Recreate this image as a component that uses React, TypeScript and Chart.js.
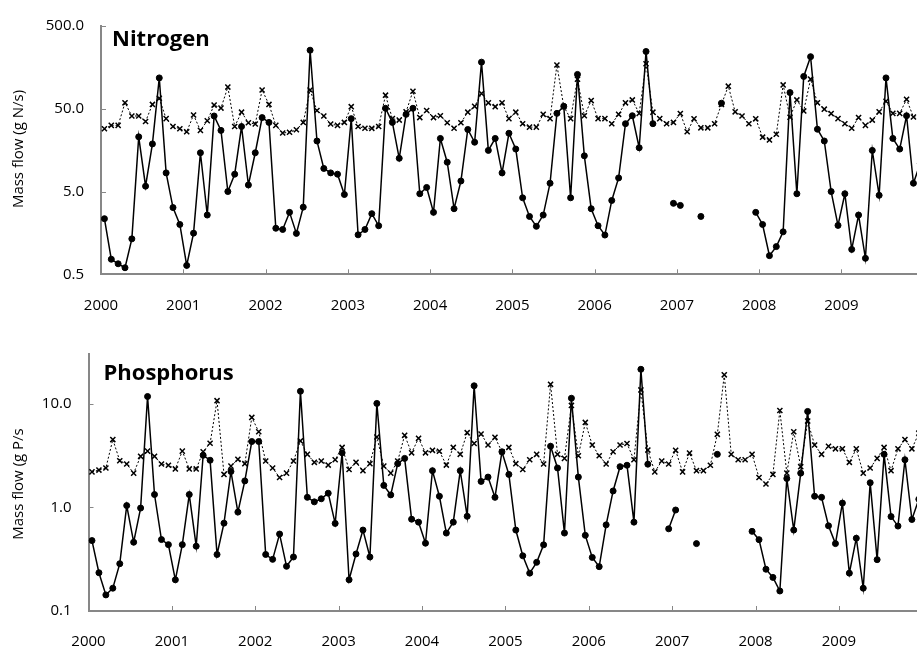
import React, { useEffect, useRef } from 'react';
import { Chart, registerables } from 'chart.js';

Chart.register(...registerables);

// Year labels placed at the start of each year on the monthly time axis
const YEARS = ['2000', '2001', '2002', '2003', '2004', '2005', '2006', '2007', '2008', '2009'];

// Monthly nitrogen mass flow (g N/s), Jan 2000 – Dec 2009
const N_TOTAL = [
  28.7, 31.5, 31.5, 59, 40.9, 40.9, 35.1, 56.4, 66.8, 38, 30.5, 28.7,
  26.4, 42, 27.4, 35.8, 55.4, 51, 91.4, 30.5, 45.5, 33.9, 32.7, 84.3,
  56.4, 31.5, 25.5, 26, 27.9, 34.2, 84.3, 47.6, 40.9, 32.7, 31.5, 34.2,
  53, 30.5, 29.1, 29, 30.5, 73, 38, 36.5, 45.9, 81.4, 39.1, 47.6,
  39.1, 41.2, 33.9, 29.1, 33.9, 45.5, 53.5, 76.4, 59, 53, 59, 38,
  45.5, 33, 30, 30, 42.8, 38, 169, 53, 38, 114, 41.2, 62.8,
  38, 38, 33, 42.8, 59, 64, 44, 175, 45.5, 38, 33, 34.2,
  43.7, 26.4, 37.8, 29.4, 29.4, 33, 56.4, 93.8, 45.9, 40.9, 33, 37.8,
  22.7, 21, 24.6, 97, 39.5, 64, 47.1, 114, 59, 49.4, 43.7, 38,
  33, 29.1, 39.1, 31.5, 36.5, 45.9, 61.6, 44, 44, 65, 39.8, 40,
];
const N_SAMPLED = [
  2.35, 0.76, 0.67, 0.6, 1.34, 22.9, 5.8, 18.8, 118, 8.4, 3.2, 2.0,
  0.64, 1.57, 14.7, 2.6, 40.9, 27.4, 5.0, 8.1, 30.5, 6.0, 14.7, 39.1,
  34.2, 1.8, 1.74, 2.8, 1.56, 3.24, 255, 20.4, 9.5, 8.4, 8.1, 4.6,
  38, 1.5, 1.74, 2.7, 1.93, 50.7, 34.2, 12.6, 42.8, 50.7, 4.7, 5.6,
  2.8, 21.9, 11.3, 3.1, 6.7, 28.1, 19.7, 183, 15.7, 21.9, 8.4, 25.3,
  16.3, 4.2, 2.5, 1.9, 2.6, 6.3, 44, 53.5, 4.2, 130, 13.5, 3.1,
  1.93, 1.49, 3.9, 7.3, 33, 41.2, 16.9, 246, 33, null, null, 3.6,
  3.4, null, null, 2.5, null, null, 58.4, null, null, null, null, 2.8,
  2.0, 0.84, 1.08, 1.63, 78.4, 4.7, 123, 213, 28.3, 20.4, 5.0, 1.95,
  4.7, 1.0, 2.6, 0.78, 15.7, 4.5, 118, 21.9, 16.3, 41.2, 6.3, 11,
];

// Monthly phosphorus mass flow (g P/s), Jan 2000 – Dec 2009
const P_TOTAL = [
  2.2, 2.29, 2.4, 4.51, 2.82, 2.62, 2.14, 3.11, 3.49, 3.11, 2.62, 2.55,
  2.35, 3.49, 2.35, 2.35, 3.44, 4.16, 10.7, 2.08, 2.5, 2.91, 2.64, 7.38,
  5.37, 2.8, 2.4, 1.94, 2.14, 2.8, 4.38, 3.25, 2.72, 2.8, 2.56, 2.88,
  3.79, 2.32, 2.72, 2.26, 2.64, 4.78, 2.5, 2.14, 2.8, 4.96, 3.36, 4.64,
  3.36, 3.55, 3.48, 2.56, 3.79, 3.25, 5.26, 4.13, 5.1, 4.0, 4.74, 3.44,
  3.79, 2.64, 2.32, 2.88, 3.25, 2.62, 15.4, 3.25, 2.97, 9.63, 3.15, 6.6,
  4.0, 3.15, 2.62, 3.44, 4.0, 4.13, 2.88, 13.6, 3.57, 2.2, 2.8, 2.62,
  3.55, 2.2, 3.34, 2.26, 2.26, 2.55, 5.07, 19.0, 3.25, 2.88, 2.88, 3.25,
  1.94, 1.68, 2.08, 8.61, 2.14, 5.37, 2.47, 6.8, 4.0, 3.25, 3.89, 3.67,
  3.67, 2.72, 3.67, 2.14, 2.4, 2.97, 3.79, 2.26, 3.67, 4.51, 3.67, 5.2,
];
const P_SAMPLED = [
  0.478, 0.234, 0.143, 0.166, 0.286, 1.04, 0.461, 0.985, 11.75, 1.33, 0.489, 0.437,
  0.2, 0.437, 1.33, 0.422, 3.18, 2.85, 0.351, 0.704, 2.22, 0.9, 1.8, 4.32,
  4.32, 0.351, 0.315, 0.553, 0.27, 0.332, 13.2, 1.25, 1.13, 1.21, 1.37, 0.7,
  3.36, 0.2, 0.355, 0.604, 0.332, 10.07, 1.63, 1.32, 2.64, 2.97, 0.769, 0.72,
  0.451, 2.26, 1.28, 0.565, 0.72, 2.26, 0.82, 14.9, 1.78, 1.96, 1.25, 3.44,
  2.08, 0.604, 0.341, 0.232, 0.295, 0.435, 3.89, 2.4, 0.565, 11.3, 1.96, 0.537,
  0.329, 0.268, 0.678, 1.44, 2.47, 2.55, 0.72, 21.5, 2.61, null, null, 0.621,
  0.943, null, null, 0.447, null, null, 3.25, null, null, null, null, 0.587,
  0.488, 0.253, 0.211, 0.156, 1.9, 0.604, 2.14, 8.43, 1.28, 1.25, 0.664, 0.447,
  1.1, 0.232, 0.504, 0.166, 1.73, 0.313, 3.25, 0.815, 0.66, 2.88, 0.764, 1.2,
];

const N_TICKS = [0.5, 5, 50, 500];
const P_TICKS = [0.1, 1, 10];

const FONT = '"Open Sans", sans-serif';
const AXIS_GREY = '#878787';
const CANVAS_W = 940;
const CANVAS_H = 325;

// Points sit in the middle of each month on a 0–120 month axis
const toPoints = (vals: (number | null)[]) => vals.map((v, i) => ({ x: i + 0.5, y: v }));

// Inward tick marks, panel heading and the rotated y-axis caption
const panelDecor = {
  id: 'panelDecor',
  afterDraw(chart: any, _args: any, opts: any) {
    const { ctx, chartArea: area } = chart;
    const xs = chart.scales.x;
    const ys = chart.scales.y;
    ctx.save();
    ctx.strokeStyle = AXIS_GREY;
    ctx.lineWidth = 1;
    ctx.beginPath();
    xs.ticks.forEach((t: any) => {
      const px = Math.round(xs.getPixelForValue(t.value)) + 0.5;
      ctx.moveTo(px, area.bottom);
      ctx.lineTo(px, area.bottom - 5);
    });
    ys.ticks.forEach((t: any) => {
      const py = Math.round(ys.getPixelForValue(t.value)) + 0.5;
      ctx.moveTo(area.left, py);
      ctx.lineTo(area.left + 5, py);
    });
    ctx.stroke();

    ctx.fillStyle = '#000';
    ctx.font = `bold 22px ${FONT}`;
    ctx.textAlign = 'left';
    ctx.textBaseline = 'alphabetic';
    ctx.fillText(opts.title, opts.titleX, opts.titleY);

    ctx.translate(opts.labelX, opts.labelY);
    ctx.rotate(-Math.PI / 2);
    ctx.font = `15px ${FONT}`;
    ctx.textAlign = 'center';
    ctx.textBaseline = 'middle';
    ctx.fillText(opts.label, 0, 0);
    ctx.restore();
  },
};

interface PanelSpec {
  total: (number | null)[];
  sampled: (number | null)[];
  yTicks: number[];
  yMin: number;
  yMax: number;
  axisLeft: number;
  padTop: number;
  padRight: number;
  xHeight: number;
  labelPad: number;
  title: string;
  titleX: number;
  titleY: number;
  label: string;
  labelX: number;
  labelY: number;
}

function buildConfig(p: PanelSpec): any {
  return {
    type: 'line',
    data: {
      datasets: [
        {
          label: 'total',
          data: toPoints(p.total),
          borderColor: '#000',
          borderWidth: 1,
          borderDash: [2, 2],
          pointStyle: 'crossRot',
          pointRadius: 3.6,
          pointBorderWidth: 1.5,
          pointBorderColor: '#000',
          pointBackgroundColor: '#000',
          tension: 0,
        },
        {
          label: 'sampled',
          data: toPoints(p.sampled),
          borderColor: '#000',
          borderWidth: 1.5,
          pointStyle: 'circle',
          pointRadius: 3,
          pointBorderWidth: 1,
          pointBorderColor: '#000',
          pointBackgroundColor: '#000',
          spanGaps: false,
          tension: 0,
        },
      ],
    },
    options: {
      responsive: false,
      animation: false,
      events: [],
      layout: { padding: { top: p.padTop, right: p.padRight, bottom: 0, left: 0 } },
      plugins: {
        legend: { display: false },
        tooltip: { enabled: false },
        panelDecor: {
          title: p.title,
          titleX: p.titleX,
          titleY: p.titleY,
          label: p.label,
          labelX: p.labelX,
          labelY: p.labelY,
        },
      },
      scales: {
        x: {
          type: 'linear',
          min: 0,
          max: YEARS.length * 12,
          grid: { display: true, drawOnChartArea: false, drawTicks: false },
          border: { display: true, color: AXIS_GREY, width: 2 },
          afterBuildTicks: (scale: any) => {
            scale.ticks = YEARS.map((_, i) => ({ value: i * 12 }));
          },
          afterFit: (scale: any) => {
            scale.height = p.xHeight;
          },
          ticks: {
            autoSkip: false,
            maxRotation: 0,
            padding: p.labelPad,
            color: '#000',
            font: { family: FONT, size: 15 },
            callback: (_v: any, i: number) => YEARS[i],
          },
        },
        y: {
          type: 'logarithmic',
          min: p.yMin,
          max: p.yMax,
          grid: { display: true, drawOnChartArea: false, drawTicks: false },
          border: { display: true, color: AXIS_GREY, width: 2 },
          afterBuildTicks: (scale: any) => {
            scale.ticks = p.yTicks.map((v) => ({ value: v }));
          },
          afterFit: (scale: any) => {
            scale.width = p.axisLeft;
          },
          ticks: {
            padding: 17,
            color: '#000',
            font: { family: FONT, size: 15 },
            callback: (v: any) => Number(v).toFixed(1),
          },
        },
      },
    },
    plugins: [panelDecor],
  };
}

const NITROGEN: PanelSpec = {
  total: N_TOTAL,
  sampled: N_SAMPLED,
  yTicks: N_TICKS,
  yMin: 0.5,
  yMax: 500,
  axisLeft: 101,
  padTop: 18.3,
  padRight: CANVAS_W - 923.7,
  xHeight: CANVAS_H - 274.3,
  labelPad: 22,
  title: 'Nitrogen',
  titleX: 112,
  titleY: 45.5,
  label: 'Mass flow (g N/s)',
  labelX: 18.5,
  labelY: 149,
};

const PHOSPHORUS: PanelSpec = {
  total: P_TOTAL,
  sampled: P_SAMPLED,
  yTicks: P_TICKS,
  yMin: 0.1,
  yMax: 30,
  axisLeft: 88.5,
  padTop: 29.3,
  padRight: CANVAS_W - 922.3,
  xHeight: CANVAS_H - 286,
  labelPad: 22,
  title: 'Phosphorus',
  titleX: 103.5,
  titleY: 55,
  label: 'Mass flow (g P/s',
  labelX: 18.5,
  labelY: 159,
};

function Panel({ spec, top }: { spec: PanelSpec; top: number }) {
  const ref = useRef<HTMLCanvasElement>(null);
  useEffect(() => {
    if (!ref.current) return;
    const chart = new Chart(ref.current, buildConfig(spec));
    return () => chart.destroy();
  }, [spec]);
  return (
    <canvas
      ref={ref}
      width={CANVAS_W}
      height={CANVAS_H}
      style={{ position: 'absolute', left: 0, top, width: CANVAS_W, height: CANVAS_H }}
    />
  );
}

export default function App() {
  return (
    <div
      style={{
        position: 'fixed',
        left: 0,
        top: 0,
        width: 917,
        height: 650,
        overflow: 'hidden',
        background: '#fff',
      }}
    >
      <Panel spec={NITROGEN} top={0} />
      <Panel spec={PHOSPHORUS} top={325} />
    </div>
  );
}
